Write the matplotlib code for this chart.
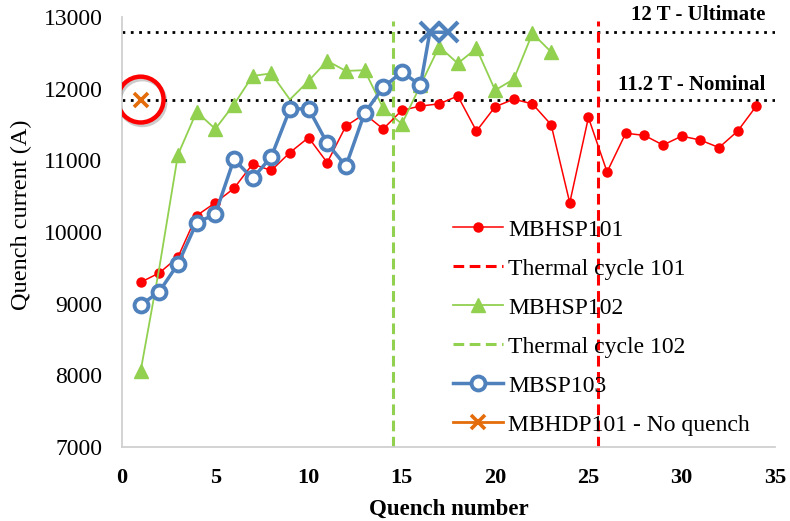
import matplotlib
matplotlib.use('Agg')
import matplotlib.pyplot as plt
import matplotlib.patheffects as pe
import numpy as np

plt.rcParams['font.family'] = ['Liberation Serif', 'DejaVu Serif']

# quench training data
x101 = np.arange(1, 35)
q101 = [9300, 9430, 9650, 10230, 10410, 10610, 10950, 10860, 11110, 11320,
        10970, 11480, 11650, 11440, 11700, 11760, 11790, 11900, 11410, 11750,
        11855, 11790, 11500, 10410, 11600, 10840, 11380, 11350, 11215, 11340,
        11285, 11180, 11410, 11760]

x102 = np.arange(1, 24)
q102 = [8060, 9500, 11080, 11680, 11440, 11780, 12180, 12215, 11850, 12110,
        12390, 12250, 12260, 11730, 11510, 12050, 12590, 12355, 12565, 11980,
        12135, 12775, 12515]

x103 = np.arange(1, 17)
q103 = [8980, 9170, 9555, 10130, 10250, 11015, 10750, 11050, 11715, 11725,
        11240, 10920, 11660, 12020, 12235, 12050]
# reached ultimate without quench
x103_top = [16.5, 17.5]
q103_top = [12790, 12790]

x_hdp = [1]
q_hdp = [11850]

i_ultimate = 12790
i_nominal = 11850
tc101 = 25.5
tc102 = 14.5

red = '#FF0000'
green = '#92D050'
blue = '#4F81BD'
orange = '#E46C0A'

fig = plt.figure(figsize=(7.9, 5.21), dpi=100)
ax = fig.add_axes([0.1544, 0.142, 0.8266, 0.825])

ax.plot([0, 35], [i_ultimate, i_ultimate], color='black', lw=2,
        ls=(0, (1, 2)), zorder=1)
ax.plot([0, 35], [i_nominal, i_nominal], color='black', lw=2,
        ls=(0, (1, 2)), zorder=1)

ax.plot(x101, q101, color=red, lw=1.1, marker='o', ms=6.5,
        label='MBHSP101', zorder=3)
ax.plot([tc101, tc101], [7000, 12950], color=red, lw=2.2,
        ls=(0, (3.5, 1.8)), label='Thermal cycle 101', zorder=2)
ax.plot(x102, q102, color=green, lw=1.3, marker='^', ms=10,
        markevery=[i for i in range(len(x102)) if i not in (1, 8)],
        label='MBHSP102', zorder=4)
ax.plot([tc102, tc102], [7000, 12950], color=green, lw=2.2,
        ls=(0, (3.5, 1.8)), label='Thermal cycle 102', zorder=2)
ax.plot(list(x103) + x103_top, q103 + q103_top, color=blue, lw=2.5,
        marker='o', ms=10, mfc='white', mec=blue, mew=2.8,
        markevery=list(range(len(x103))), label='MBSP103', zorder=5)
ax.plot(x103_top, q103_top, ls='none', marker='x', ms=15, mec=blue, mew=3,
        zorder=6)
ax.plot(x_hdp, q_hdp, color=orange, lw=2, marker='x', ms=10, mew=2.6,
        ls='-', label='MBHDP101 - No quench', zorder=6)

# highlight ring around the untrained magnet
ax.plot(x_hdp, q_hdp, ls='none', marker='o', ms=33, mfc='none', mec=red,
        mew=3.2, zorder=7,
        path_effects=[pe.SimpleLineShadow(offset=(1.2, -1.8), alpha=0.2),
                      pe.Normal()])

ax.text(34.5, i_ultimate + 235, '12 T - Ultimate', ha='right', va='center',
        fontsize=15, fontweight='bold')
ax.text(34.5, i_nominal + 200, '11.2 T - Nominal', ha='right', va='center',
        fontsize=15, fontweight='bold')

ax.set_xlim(0, 35)
ax.set_ylim(7000, 13000)
ax.set_xticks(np.arange(0, 36, 5))
ax.set_yticks(np.arange(7000, 13001, 1000))
ax.tick_params(length=0)
ax.tick_params(axis='y', pad=14, labelsize=17)
ax.tick_params(axis='x', pad=15, labelsize=16)
for lab in ax.get_xticklabels():
    lab.set_fontweight('bold')

for s in ['top', 'right']:
    ax.spines[s].set_visible(False)
for s in ['left', 'bottom']:
    ax.spines[s].set_color('#D0D0D0')
    ax.spines[s].set_linewidth(1.3)

ax.set_xlabel('Quench number', fontsize=16.5, fontweight='bold')
ax.xaxis.set_label_coords(0.5, -0.12)
ax.set_ylabel('Quench current (A)', fontsize=17.5)
ax.yaxis.set_label_coords(-0.138, 0.54)

ax.legend(loc='upper left', bbox_to_anchor=(453 / 790, 1 - 219 / 521),
          bbox_transform=fig.transFigure, frameon=False, fontsize=17,
          borderpad=0, borderaxespad=0, handlelength=2.1, handletextpad=0.25,
          labelspacing=0.74)

plt.savefig('out.png', dpi=100)
